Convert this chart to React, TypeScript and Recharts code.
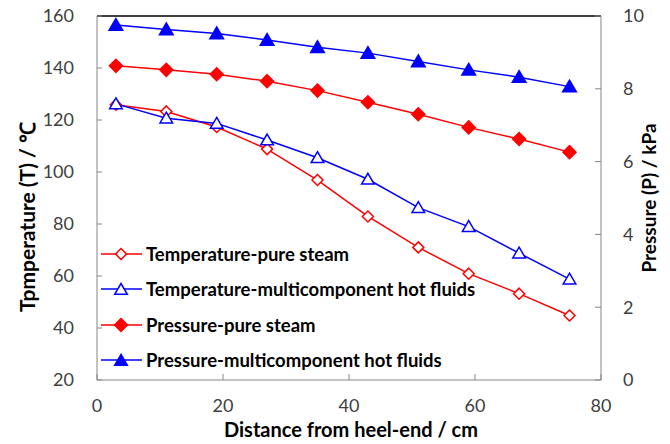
import React from 'react';
import { LineChart, Line, XAxis, YAxis, ReferenceLine } from 'recharts';

// distance from heel-end (cm)
const distance = [3, 11, 19, 27, 35, 43, 51, 59, 67, 75];
// temperature (℃), left axis
const tempPureSteam = [125.9, 123.3, 117.3, 108.8, 96.9, 82.9, 71.0, 60.9, 53.2, 44.8];
const tempMultiFluid = [126.2, 120.7, 118.7, 112.3, 105.5, 97.2, 86.3, 79.0, 68.8, 58.8];
// pressure (kPa), right axis
const presPureSteam = [8.63, 8.52, 8.4, 8.21, 7.95, 7.63, 7.3, 6.94, 6.62, 6.26];
const presMultiFluid = [9.75, 9.63, 9.52, 9.34, 9.14, 8.98, 8.75, 8.52, 8.32, 8.06];

const xTicks = [0, 20, 40, 60, 80];
const tempTicks = [20, 40, 60, 80, 100, 120, 140, 160];
const presTicks = [0, 2, 4, 6, 8, 10];

const data = distance.map((x, i) => ({
  x,
  tPure: tempPureSteam[i],
  tMulti: tempMultiFluid[i],
  pPure: presPureSteam[i],
  pMulti: presMultiFluid[i],
}));

const RED = '#FF0000';
const BLUE = '#0000FF';
const FONT = 'Lato, "Open Sans", sans-serif';

const diamondPath = (cx: number, cy: number, r: number) =>
  `M${cx},${cy - r}L${cx + r},${cy}L${cx},${cy + r}L${cx - r},${cy}Z`;
const trianglePath = (cx: number, cy: number, r: number) =>
  `M${cx},${cy - r}L${cx + r * 1.05},${cy + r * 0.8}L${cx - r * 1.05},${cy + r * 0.8}Z`;

const makeDot = (shape: 'diamond' | 'triangle', color: string, filled: boolean) => (props: any) => {
  const { cx, cy, index } = props;
  if (cx == null || cy == null) return <g key={index} />;
  const d = shape === 'diamond' ? diamondPath(cx, cy, filled ? 6.5 : 5.5) : trianglePath(cx, cy, filled ? 6.5 : 6);
  return <path key={index} d={d} fill={filled ? color : '#fff'} stroke={color} strokeWidth={1.5} />;
};

const legendItems = [
  { label: 'Temperature-pure steam', shape: 'diamond' as const, color: RED, filled: false },
  { label: 'Temperature-multicomponent hot fluids', shape: 'triangle' as const, color: BLUE, filled: false },
  { label: 'Pressure-pure steam', shape: 'diamond' as const, color: RED, filled: true },
  { label: 'Pressure-multicomponent hot fluids', shape: 'triangle' as const, color: BLUE, filled: true },
];

const LegendBox = () => (
  <div
    style={{
      position: 'absolute',
      left: 100,
      top: 236,
      fontFamily: FONT,
      fontWeight: 700,
      fontSize: 18.5,
      color: '#000',
      whiteSpace: 'nowrap',
    }}
  >
    {legendItems.map((it) => (
      <div key={it.label} style={{ display: 'flex', alignItems: 'center', height: 35.5 }}>
        <svg width={44} height={16} style={{ marginRight: 2 }}>
          <line x1={1} y1={8} x2={42} y2={8} stroke={it.color} strokeWidth={1.5} />
          <path
            d={it.shape === 'diamond' ? diamondPath(21, 8, it.filled ? 6.5 : 5.5) : trianglePath(21, 8.5, 6)}
            fill={it.filled ? it.color : '#fff'}
            stroke={it.color}
            strokeWidth={1.5}
          />
        </svg>
        <span>{it.label}</span>
      </div>
    ))}
  </div>
);

const tickStyle = { fontFamily: FONT, fontSize: 18, fill: '#404040' };
const titleStyle = { fontFamily: FONT, fontSize: 20, fontWeight: 700, fill: '#000' } as const;

export default function App() {
  return (
    <div style={{ position: 'absolute', left: 0, top: 0, width: 670, height: 444, background: '#fff' }}>
      <LineChart width={670} height={444} data={data} margin={{ top: 16, right: 0, bottom: 0, left: 0 }}>
        <XAxis
          dataKey="x"
          type="number"
          domain={[0, 80]}
          ticks={xTicks}
          stroke="#868686"
          tickSize={-6}
          tickMargin={25}
          tick={tickStyle}
          height={64}
          label={() => (
            <text x={351} y={437} textAnchor="middle" style={titleStyle}>
              Distance  from heel-end / cm
            </text>
          )}
        />
        <YAxis
          yAxisId="left"
          domain={[20, 160]}
          ticks={tempTicks}
          width={97}
          stroke="#868686"
          tickSize={-5}
          tickMargin={28}
          tick={tickStyle}
          label={() => (
            <text transform="translate(35,217) rotate(-90)" textAnchor="middle" style={{ ...titleStyle, fontSize: 21 }}>
              Tpmperature (T) / ℃
            </text>
          )}
        />
        <YAxis
          yAxisId="right"
          orientation="right"
          domain={[0, 10]}
          ticks={presTicks}
          width={69}
          stroke="#868686"
          tickSize={-6}
          tickMargin={28}
          tick={{ ...tickStyle, textAnchor: 'start' }}
          label={() => (
            <text transform="translate(656,198) rotate(-90)" textAnchor="middle" style={{ ...titleStyle, fontSize: 19 }}>
              Pressure (P) / kPa
            </text>
          )}
        />
        <ReferenceLine yAxisId="left" y={160} stroke="#000" strokeWidth={1.5} />
        <Line yAxisId="left" dataKey="tPure" stroke={RED} strokeWidth={1.5} dot={makeDot('diamond', RED, false)} isAnimationActive={false} />
        <Line yAxisId="left" dataKey="tMulti" stroke={BLUE} strokeWidth={1.5} dot={makeDot('triangle', BLUE, false)} isAnimationActive={false} />
        <Line yAxisId="right" dataKey="pPure" stroke={RED} strokeWidth={1.5} dot={makeDot('diamond', RED, true)} isAnimationActive={false} />
        <Line yAxisId="right" dataKey="pMulti" stroke={BLUE} strokeWidth={1.5} dot={makeDot('triangle', BLUE, true)} isAnimationActive={false} />
      </LineChart>
      <LegendBox />
    </div>
  );
}
